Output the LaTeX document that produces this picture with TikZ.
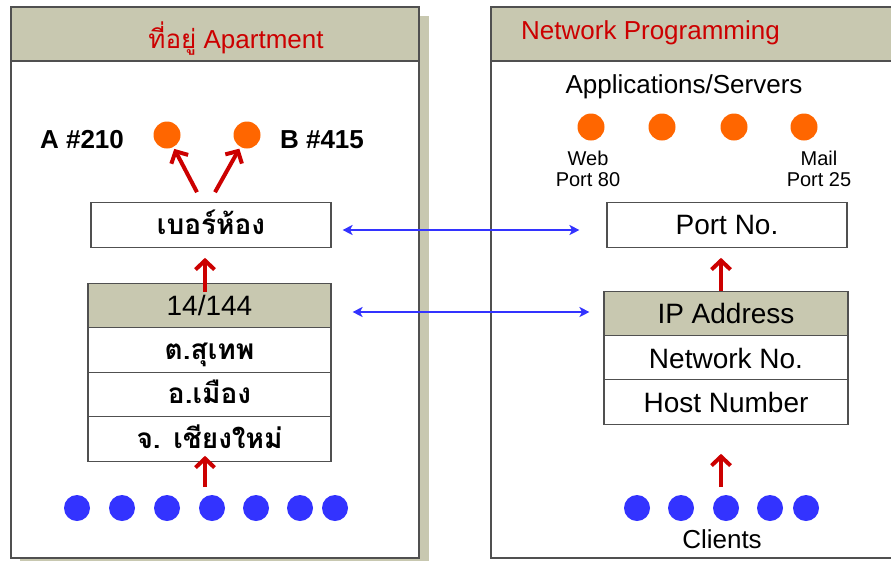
\documentclass[tikz,border=0pt]{standalone}
\usepackage{fontspec}
\setmainfont{Liberation Sans}
\newfontfamily\thai[Script=Thai]{Loma}
\usetikzlibrary{arrows.meta}
\definecolor{khaki}{RGB}{200,200,176}
\definecolor{titlered}{RGB}{204,0,0}
\definecolor{dotorange}{RGB}{255,102,0}
\definecolor{dotblue}{RGB}{51,51,255}
\definecolor{edgegray}{RGB}{80,80,80}
\newcommand{\fsz}[1]{\fontsize{#1}{#1}\selectfont}

\begin{document}
\begin{tikzpicture}[x=1pt,y=-1pt,
  panelbox/.style={draw=edgegray,line width=1.6pt,fill=white},
  headbox/.style={draw=edgegray,line width=1.6pt,fill=khaki},
  field/.style={draw=edgegray,line width=1.1pt,fill=white,inner sep=0pt,
    minimum width=#1,minimum height=44.5pt,font=\fsz{28}},
  field/.default=243pt,
  thaifield/.style={field=#1,font=\thai\bfseries\fsz{28},text height=20pt,text depth=2pt},
  thaifield/.default=243pt,
  keyrow/.style={fill=khaki},
  title/.style={text=titlered,font=\fsz{26},inner sep=0pt},
  label/.style={font=\fsz{26},inner sep=0pt},
  small/.style={font=\fsz{20},inner sep=0pt,align=center},
  odot/.style={circle,fill=dotorange,minimum size=27pt,inner sep=0pt},
  bdot/.style={circle,fill=dotblue,minimum size=26pt,inner sep=0pt},
  uparrow/.style={draw=titlered,line width=4pt,
    -{Straight Barb[length=9pt,width=19pt,line width=4pt]}},
  linkarrow/.style={draw=dotblue,line width=2.8pt,
    {Stealth[length=10pt,width=10pt,inset=2.5pt]}-{Stealth[length=10pt,width=10pt,inset=2.5pt]}}
]
\useasboundingbox (0,0) rectangle (891,560);
\clip (0,0) rectangle (891,560);

% left panel with its drop shadow
\fill[khaki] (20,16) rectangle (429,570);
\draw[panelbox] (11,7) rectangle (419,558);
\draw[headbox] (11,7) rectangle (419,61);
% right panel, running past the page edge
\draw[panelbox] (491,7) rectangle (900,558);
\draw[headbox] (491,7) rectangle (900,61);

\node[title] (lefttitle) at (236,39) {{\thai ที่อยู่} Apartment};
\node[title,anchor=west] (righttitle) at (521,33) {Network Programming};

% --- apartment side ---
\node[odot] (roomA) at (167,135) {};
\node[odot] (roomB) at (247,135) {};
\node[label,font=\bfseries\fsz{26}] (labA) at (82,140) {A \#210};
\node[label,font=\bfseries\fsz{26}] (labB) at (322,140) {B \#415};

\node[thaifield=240pt] (room) at (211,225) {เบอร์ห้อง};

\node[field,keyrow] (addr1) at (209.5,305.5) {14/144};
\node[thaifield] (addr2) at (209.5,350) {ต.สุเทพ};
\node[thaifield] (addr3) at (209.5,394.5) {อ.เมือง};
\node[thaifield] (addr4) at (209.5,439) {จ. เชียงใหม่};

\foreach \x [count=\i] in {77,122,167,212,256,300,335}
  \node[bdot] (house\i) at (\x,508) {};

\draw[uparrow,shorten >=2pt] ([xshift=-14pt,yshift=10pt]room.north) -- (roomA);
\draw[uparrow,shorten >=2pt] ([xshift=4pt,yshift=10pt]room.north) -- (roomB);
\draw[uparrow] ([xshift=-4.5pt,yshift=-9pt]addr1.north) -- ([xshift=-6pt,yshift=-10pt]room.south);
\coordinate (lbase) at (205,487);
\draw[uparrow] (lbase) -- ([xshift=-4.5pt,yshift=6pt]addr4.south);

% --- network side ---
\node[label] (apps) at (684,87) {Applications/Servers};
\foreach \x [count=\i] in {591,662,734,804}
  \node[odot] (srv\i) at (\x,127) {};
\node[small] (web) at (588,169) {Web\\[1pt]Port 80};
\node[small] (mail) at (819,169) {Mail\\[1pt]Port 25};

\node[field=240pt] (port) at (727,225) {Port No.};

\node[field=244pt,keyrow] (ip1) at (726,313.5) {IP Address};
\node[field=244pt] (ip2) at (726,358) {Network No.};
\node[field=244pt] (ip3) at (726,402) {Host Number};

\foreach \x [count=\i] in {637,681,726,770,806}
  \node[bdot] (client\i) at (\x,508) {};
\node[label] (clients) at (722,539) {Clients};

\draw[uparrow] ([xshift=-5pt]ip1.north) -- ([xshift=-6pt,yshift=-10pt]port.south);
\coordinate (rbase) at (721,487);
\draw[uparrow] (rbase) -- ([xshift=-5pt,yshift=-29pt]ip3.south);

% --- correspondences between the two sides ---
\draw[linkarrow] ([xshift=11pt,yshift=-5pt]room.east) -- ([xshift=-27pt,yshift=-5pt]port.west);
\draw[linkarrow] ([xshift=21pt,yshift=-6.5pt]addr1.east) -- ([xshift=-14pt,yshift=1.5pt]ip1.west);
\end{tikzpicture}
\end{document}
